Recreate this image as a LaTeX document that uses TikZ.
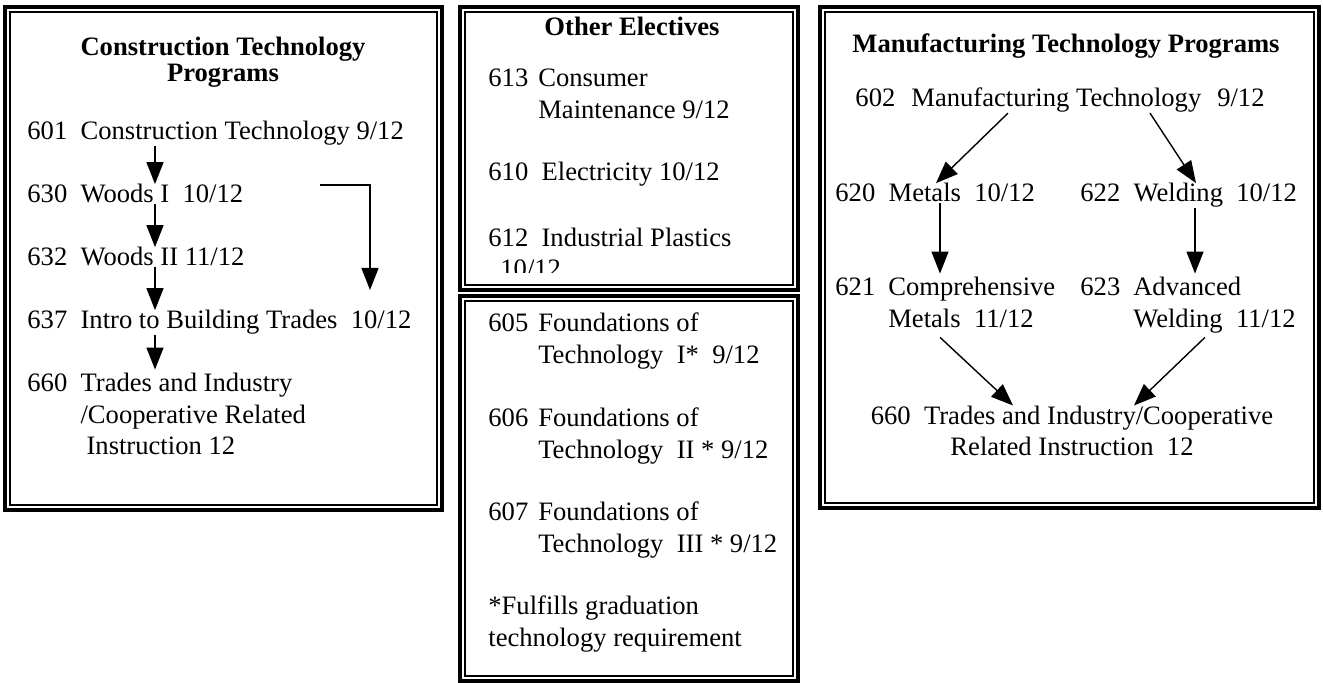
\documentclass[tikz,border=0pt]{standalone}
\usepackage{fontspec}
\setmainfont{Liberation Serif}
\usetikzlibrary{arrows.meta}
\newcommand{\txtsize}{\fontsize{13.3}{15.75}\selectfont}
\tikzset{
  item/.style={anchor=base west, inner sep=0pt, align=left},
  heading/.style={inner sep=0pt, font=\txtsize\bfseries, align=center},
  conn/.style={-{Triangle[width=8.5pt,length=11pt]}, line width=0.7pt},
  outerline/.style={line width=1.6pt},
  innerline/.style={line width=0.9pt},
}
\newcommand{\course}[4][5pt]{\begin{tabular}[t]{@{}l@{\hspace{#1}}l@{}}#2 & #3\\ & #4\end{tabular}}

\begin{document}
\begin{tikzpicture}[x=0.5pt, y=-0.5pt, font=\txtsize, line join=miter]
			\useasboundingbox (0,0) rectangle (1323,683);
			
			% Construction Technology box
			\draw[outerline] (5,7) rectangle (442,510);
			\draw[innerline] (10,12) rectangle (437,505);
			\node[heading] (ttlc) at (223,62) {Construction Technology\\[-2.7pt]Programs};
			\node[item] (c601) at (27,140) {601~~Construction Technology 9/12};
			\node[item] (c630) at (27,203) {630~~Woods I~~10/12};
			\node[item] (c632) at (27,266) {632~~Woods II 11/12};
			\node[item] (c637) at (27,329) {637~~Intro to Building Trades~~10/12};
			\node[item] (c660) at (27,392) {\begin{tabular}[t]{@{}l@{~~}l@{}}660 & Trades and Industry\\ & /Cooperative Related\\ & \hspace*{3pt}Instruction 12\end{tabular}};
			\coordinate (ax) at (155,0);
			\draw[conn] (c601.south -| ax) -- (c630.north -| ax);
			\draw[conn] (c630.south -| ax) -- (c632.north -| ax);
			\draw[conn] (c632.south -| ax) -- (c637.north -| ax);
			\draw[conn] (c637.south -| ax) -- (c660.north -| ax);
			\coordinate (bs) at (320,185);
			\coordinate (be) at (370,290);
			\draw[conn] (bs) -| (be);
			
			% Other Electives box
			\draw[outerline] (460,7) rectangle (798,290);
			\draw[innerline] (465,12) rectangle (793,285);
			\node[heading] (ttlo) at (632,26) {Other Electives};
			\node[item] (c613) at (488,87) {\course{613}{Consumer}{Maintenance 9/12}};
			\node[item] (c610) at (488,181) {610~~Electricity 10/12};
			\begin{scope}
				\clip (466,13) rectangle (792,273);
				\node[item, anchor=west] (c612) at (488,253) {612~~Industrial Plastics\\\hspace*{6pt}10/12};
			\end{scope}
			
			% Foundations box
			\draw[outerline] (460,296) rectangle (798,681);
			\draw[innerline] (465,301) rectangle (793,676);
			\node[item] (c605) at (488,332) {\course{605}{Foundations of}{Technology~~I*~~9/12}};
			\node[item] (c606) at (488,427) {\course{606}{Foundations of}{Technology~~II * 9/12}};
			\node[item] (c607) at (488,521) {\course{607}{Foundations of}{Technology~~III * 9/12}};
			\node[item, anchor=west] (note) at (488,624) {*Fulfills graduation\\technology requirement};
			
			% Manufacturing Technology box
			\draw[outerline] (820,7) rectangle (1319,508);
			\draw[innerline] (825,12) rectangle (1314,503);
			\node[heading] (ttlm) at (1066,46) {Manufacturing Technology Programs};
			\node[item, anchor=base] (c602) at (1060,107) {602\hspace{0.6em}Manufacturing Technology\hspace{0.6em}9/12};
			\node[item] (c620) at (835,202) {620~~Metals~~10/12};
			\node[item] (c622) at (1080,202) {622~~Welding~~10/12};
			\node[item] (c621) at (835,296) {\course[6.5pt]{621}{Comprehensive}{Metals~~11/12}};
			\node[item] (c623) at (1080,296) {\course[6.5pt]{623}{Advanced}{Welding~~11/12}};
			\node[item, anchor=center, align=center] (m660) at (1072,431) {660~~Trades and Industry/Cooperative\\Related Instruction~~12};
			\draw[conn] (c602.south -| 1008,0) -- (c620.north -| 936,0);
			\draw[conn] (c602.south -| 1150,0) -- (c622.north -| 1196,0);
			\draw[conn] (c620.south -| 940,0) -- (c621.north -| 940,0);
			\draw[conn] (c622.south -| 1195,0) -- (c623.north -| 1195,0);
			\draw[conn] (c621.south -| 940,0) -- (m660.north -| 1013,0);
			\draw[conn] (c623.south -| 1205,0) -- (m660.north -| 1134,0);
		\end{tikzpicture}
\end{document}
